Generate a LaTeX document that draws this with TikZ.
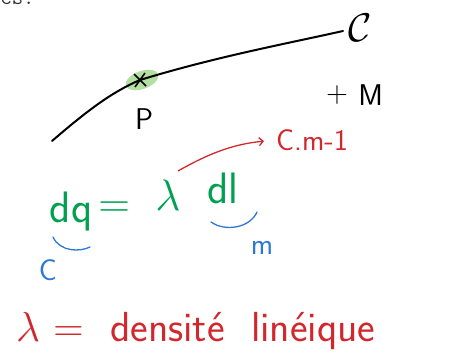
\RequirePackage{fix-cm}
\documentclass[tikz,border=0pt]{standalone}
\usepackage{amsmath,amssymb}
\usepackage{xcolor}
\usepackage{tikz}
\usetikzlibrary{arrows.meta,positioning,calc}
\definecolor{inkgreen}{RGB}{0, 160, 80}
\definecolor{inkred}{RGB}{210, 40, 45}
\definecolor{inkblue}{RGB}{45, 120, 210}
\definecolor{hilite}{RGB}{160, 215, 140}

\begin{document}
\begin{tikzpicture}[x=1pt,y=-1pt,
    ink/.style={font=\sffamily\fontsize{30}{32}\selectfont,inner sep=0pt},
    big/.style={font=\sffamily\fontsize{44}{46}\selectfont,inner sep=0pt}]
    \useasboundingbox (0,0) rectangle (470,361);
    \clip (0,0) rectangle (470,361);

    % end of the line above
    \node[anchor=base west,inner sep=0pt,font=\ttfamily\fontsize{22}{24}\selectfont,black!80] (prev) at (-11,5) {ces.};

    % the curve C with the point P
    \fill[hilite,opacity=0.8] (142,80) ellipse [x radius=17, y radius=9, rotate=20];
    \draw[line width=2pt,line cap=round] (52,141) .. controls (88,110) and (112,92) .. (140,80)
        .. controls (215,57) and (285,44) .. (343,31);
    \coordinate (ptP) at (140,80);
    \draw[line width=1.6pt] ($(ptP)+(-6,-6)$) -- ($(ptP)+(6,6)$);
    \draw[line width=1.6pt] ($(ptP)+(-5,7)$) -- ($(ptP)+(5,-7)$);
    \node[ink] (P) at (144,119) {P};
    \node[font=\fontsize{40}{42}\selectfont,inner sep=0pt] (curve) at (360,28) {$\mathcal{C}$};

    % the point M
    \node[ink] (plus) at (337,95) {+};
    \node[ink,right=10pt of plus] (M) {M};

    % dq = lambda dl
    \node[big,inkgreen] (dq) at (71,212) {dq};
    \node[big,inkgreen] (eq) at (115,210) {=};
    \node[big,inkgreen] (lam) at (168,195) {$\lambda$};
    \node[big,inkgreen] (dl) at (223,188) {dl};

    % unit of lambda
    \node[ink,inkred] (unit) at (312,140) {C.m-1};
    \coordinate (arrfrom) at (178,171);
    \draw[inkred,line width=1.3pt,shorten >=12pt,-{Straight Barb[length=4pt]}] (arrfrom) to[bend left=12] (unit.west);

    % units under dq and dl
    \coordinate (dqL) at (53,237);
    \coordinate (dqR) at (90,247);
    \draw[inkblue,line width=1.3pt,line cap=round] (dqL) .. controls (60,252) and (80,252) .. (dqR);
    \node[ink,inkblue] (unitC) at (48,270) {C};
    \coordinate (dlL) at (211,222);
    \coordinate (dlR) at (257,212);
    \draw[inkblue,line width=1.3pt,line cap=round] (dlL) .. controls (225,232) and (250,228) .. (dlR);
    \node[ink,inkblue] (unitm) at (262,248) {m};

    % definition of lambda
    \node[big,inkred,anchor=base west,font=\sffamily\fontsize{42}{44}\selectfont] (defn) at (16,341) {$\lambda$ = \ densité \ linéique};
\end{tikzpicture}
\end{document}
